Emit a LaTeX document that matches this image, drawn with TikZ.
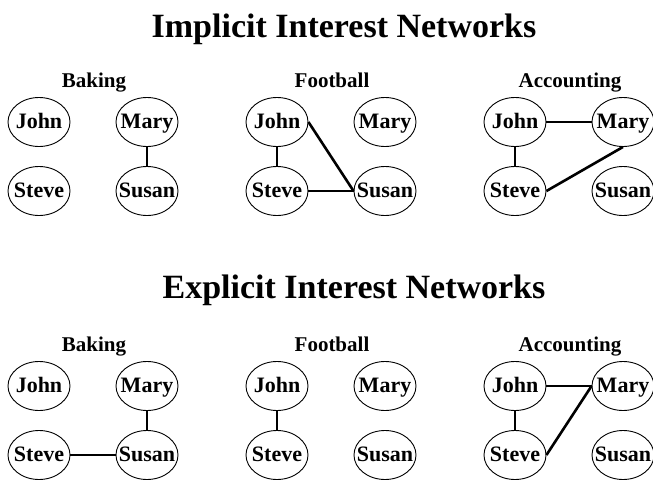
\documentclass[tikz,border=0pt]{standalone}
\usepackage{fontspec}
\setmainfont{Liberation Serif}
\usetikzlibrary{shapes.geometric}

\tikzset{
	person/.style={ellipse,draw,line width=0.9pt,minimum width=62pt,minimum height=49pt,
		inner xsep=-7pt,inner ysep=0pt,text height=12.5pt,text depth=0pt,
		font=\bfseries\fontsize{22}{22}\selectfont},
	grp/.style={anchor=base,font=\bfseries\fontsize{21}{21}\selectfont},
	headline/.style={anchor=base,font=\bfseries\fontsize{34}{34}\selectfont},
	tie/.style={line width=2.6pt}
}

\begin{document}
\begin{tikzpicture}[x=1pt,y=-1pt]
	\useasboundingbox (0,0) rectangle (653,482);
	% Ueberschriften
	\node[headline] (implicit) at (344,37) {Implicit Interest Networks};
	\node[headline] (explicit) at (354,298) {Explicit Interest Networks};
	% Gruppen zeichnen
	\foreach \g/\x/\y/\t in {ib/39/122/Baking,if/277/122/Football,ia/515/122/Accounting,
		eb/39/386/Baking,ef/277/386/Football,ea/515/386/Accounting}{
		\node[grp] (\g-lbl) at (\x+55,\y-35) {\t};
		\node[person] (\g-john) at (\x,\y) {John};
		\node[person] (\g-mary) at (\x+108,\y) {Mary};
		\node[person] (\g-steve) at (\x,\y+69) {Steve};
		\node[person] (\g-susan) at (\x+108,\y+69) {Susan};
	}
	% implizit
	\draw[tie] (ib-mary) -- (ib-susan);
	\draw[tie] (if-john) -- (if-steve);
	\draw[tie] (if-john.east) -- (if-susan.west);
	\draw[tie] (if-steve) -- (if-susan);
	\draw[tie] (ia-john) -- (ia-mary);
	\draw[tie] (ia-john) -- (ia-steve);
	\draw[tie] (ia-steve.east) -- (ia-mary.south);
	% explizit
	\draw[tie] (eb-mary) -- (eb-susan);
	\draw[tie] (eb-steve) -- (eb-susan);
	\draw[tie] (ef-john) -- (ef-steve);
	\draw[tie] (ea-john) -- (ea-mary);
	\draw[tie] (ea-john) -- (ea-steve);
	\draw[tie] (ea-steve.east) -- (ea-mary.west);
\end{tikzpicture}
\end{document}
